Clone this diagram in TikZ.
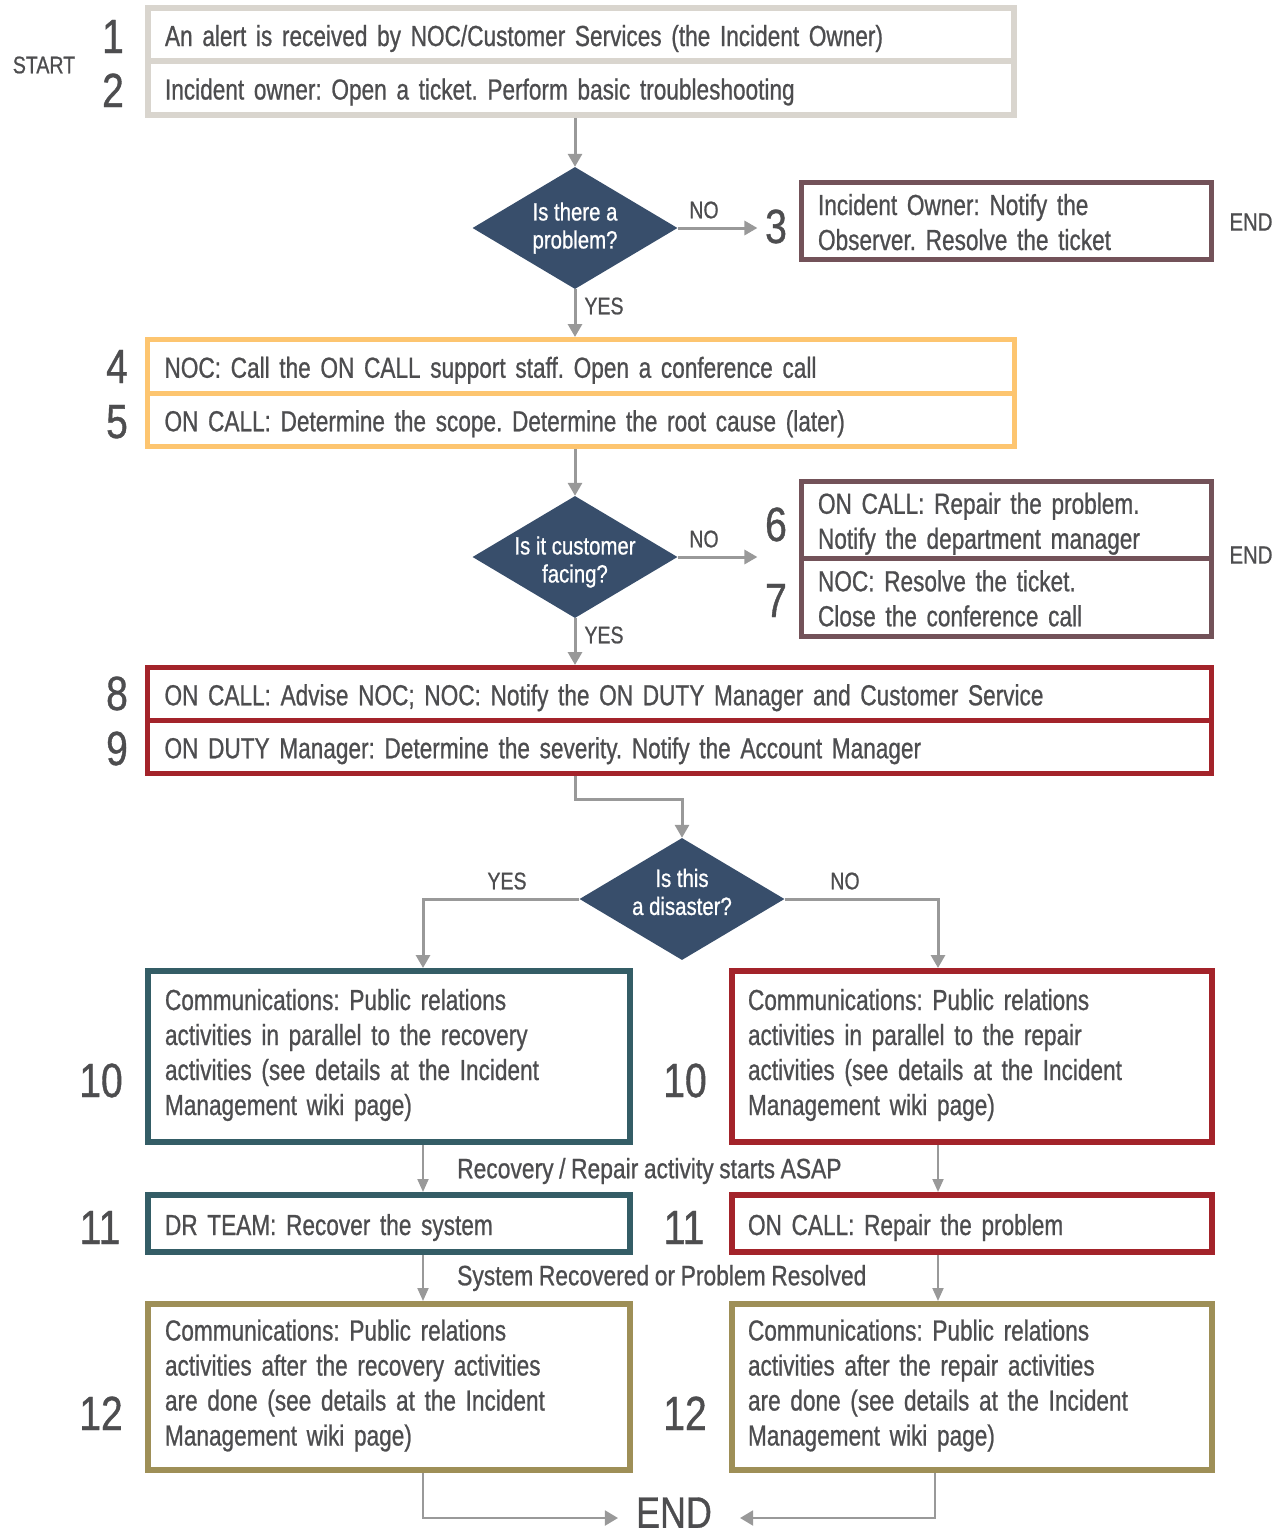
\documentclass[tikz,border=0pt]{standalone}
\usepackage{fontspec}
\setmainfont{Liberation Sans}[FakeStretch=0.78, FakeBold=0.8]
\newfontfamily\labfont{Liberation Sans}[FakeStretch=0.815, FakeBold=0.8]
\frenchspacing
\usetikzlibrary{shapes.geometric,arrows.meta,calc}
\newcommand\boxfont{\fontsize{29}{35}\selectfont\setlength{\spaceskip}{5.2pt}}
\newcommand\midfont{\labfont\fontsize{28}{32}\selectfont\setlength{\spaceskip}{5.6pt}}
\definecolor{txt}{RGB}{77,77,79}
\definecolor{cgrey}{RGB}{217,213,206}
\definecolor{corange}{RGB}{253,197,112}
\definecolor{cmauve}{RGB}{115,82,89}
\definecolor{cred}{RGB}{163,35,42}
\definecolor{cteal}{RGB}{52,93,102}
\definecolor{colive}{RGB}{158,143,87}
\definecolor{cdia}{RGB}{56,78,107}
\definecolor{carrow}{RGB}{153,153,153}
\begin{document}
\begin{tikzpicture}[x=1pt,y=-1pt,
  every node/.style={text=txt},
  box/.style={draw=#1, line width=5pt, anchor=north west, align=left, outer sep=0pt,
    inner xsep=17pt, inner ysep=0pt, font=\boxfont,
    text height=23pt, text depth=0pt},
  two/.style={text depth=35pt},
  four/.style={text depth=116pt},
  num/.style={font=\labfont\fontsize{48}{50}\selectfont, inner sep=0pt, text height=34pt, text depth=0pt},
  lab/.style={font=\labfont\fontsize{24}{28}\selectfont, inner sep=0pt},
  biglab/.style={font=\midfont, inner sep=0pt},
  endlab/.style={font=\labfont\fontsize{25}{28}\selectfont, inner sep=0pt},
  diam/.style={diamond, fill=cdia, minimum width=205pt, minimum height=122pt, inner sep=0pt},
  dtext/.style={text=white, align=center, font=\labfont\fontsize{25}{28}\selectfont, inner sep=0pt},
  conn/.style={draw=carrow, line width=3pt, -{Triangle[width=14pt,length=13pt]}},
  thin/.style={draw=carrow, line width=2pt, -{Triangle[width=11pt,length=13pt]}},
]
\useasboundingbox (0,0) rectangle (1283,1534);

% steps 1 and 2
\node[box=cgrey, line width=6pt, minimum width=866pt, minimum height=53pt, text width=832pt] (b1) at (148,8)
  {An alert is received by NOC/Customer Services (the Incident Owner)};
\node[box=cgrey, line width=6pt, minimum width=866pt, minimum height=54pt, text width=832pt] (b2) at (148,61)
  {Incident owner: Open a ticket. Perform basic troubleshooting};
\node[lab] (start) at (44,65) {START};
\node[num] (n1) at (113,36) {1};
\node[num] (n2) at (113,90) {2};

% first decision
\node[diam, label={[dtext]center:Is there a\\problem?}] (d1) at (575,228) {};
\node[box=cmauve, minimum width=410pt, minimum height=77pt, text width=377pt, inner xsep=16.5pt, two] (b3) at (801.5,182.5)
  {Incident Owner: Notify the\\Observer. Resolve the ticket};
\node[num] (n3) at (776,226) {3};
\node[endlab] (end1) at (1251,222) {END};
\node[lab] (no1) at (704,210) {NO};
\node[lab] (yes1) at (604,306) {YES};

% steps 4 and 5
\node[box=corange, minimum width=867pt, minimum height=53.5pt, text width=833pt] (b4) at (147.5,339.5)
  {NOC: Call the ON CALL support staff. Open a conference call};
\node[box=corange, minimum width=867pt, minimum height=53.5pt, text width=833pt] (b5) at (147.5,393)
  {ON CALL: Determine the scope. Determine the root cause (later)};
\node[num] (n4) at (117,366) {4};
\node[num] (n5) at (117,421) {5};

% second decision
\node[diam, label={[dtext, yshift=-5pt]center:Is it customer\\facing?}] (d2) at (575,557) {};
\node[box=cmauve, minimum width=410pt, minimum height=76.5pt, text width=377pt, inner xsep=16.5pt, two] (b6) at (801.5,481.5)
  {ON CALL: Repair the problem.\\Notify the department manager};
\node[box=cmauve, minimum width=410pt, minimum height=78.5pt, text width=377pt, inner xsep=16.5pt, two] (b7) at (801.5,558)
  {NOC: Resolve the ticket.\\Close the conference call};
\node[num] (n6) at (776,524) {6};
\node[num] (n7) at (776,600) {7};
\node[endlab] (end2) at (1251,555) {END};
\node[lab] (no2) at (704,539) {NO};
\node[lab] (yes2) at (604,635) {YES};

% steps 8 and 9
\node[box=cred, minimum width=1064pt, minimum height=52.5pt, text width=1030pt] (b8) at (147.5,667.5)
  {ON CALL: Advise NOC; NOC: Notify the ON DUTY Manager and Customer Service};
\node[box=cred, minimum width=1064pt, minimum height=53.5pt, text width=1030pt] (b9) at (147.5,720)
  {ON DUTY Manager: Determine the severity. Notify the Account Manager};
\node[num] (n8) at (117,693) {8};
\node[num] (n9) at (117,748) {9};

% third decision
\node[diam, label={[dtext, yshift=7pt]center:Is this\\a disaster?}] (d3) at (682,899) {};
\node[lab] (yes3) at (507,881) {YES};
\node[lab] (no3) at (845,881) {NO};

% step 10
\node[box=cteal, line width=6pt, minimum width=482pt, minimum height=171pt, text width=448pt, four] (b10l) at (148,971)
  {Communications: Public relations\\activities in parallel to the recovery\\activities (see details at the Incident\\Management wiki page)};
\node[box=cred, line width=5.5pt, minimum width=480pt, minimum height=171pt, text width=448pt, inner xsep=16pt, four] (b10r) at (732,971)
  {Communications: Public relations\\activities in parallel to the repair\\activities (see details at the Incident\\Management wiki page)};
\node[num] (n10l) at (101,1080) {10};
\node[num] (n10r) at (685,1080) {10};
\node[biglab, anchor=west] (asap) at (457,1171) {Recovery / Repair activity starts ASAP};

% step 11
\node[box=cteal, line width=6pt, minimum width=482pt, minimum height=57pt, text width=448pt] (b11l) at (148,1195)
  {DR TEAM: Recover the system};
\node[box=cred, line width=5.5pt, minimum width=480pt, minimum height=57pt, text width=448pt, inner xsep=16pt] (b11r) at (732,1195)
  {ON CALL: Repair the problem};
\node[num] (n11l) at (100,1227) {11};
\node[num] (n11r) at (684,1227) {11};
\node[biglab, anchor=west] (resolved) at (457,1278) {System Recovered or Problem Resolved};

% step 12
\node[box=colive, line width=6pt, minimum width=482pt, minimum height=166pt, text width=448pt, four] (b12l) at (148,1304)
  {Communications: Public relations\\activities after the recovery activities\\are done (see details at the Incident\\Management wiki page)};
\node[box=colive, line width=6pt, minimum width=480pt, minimum height=166pt, text width=448pt, inner xsep=16pt, four] (b12r) at (732,1304)
  {Communications: Public relations\\activities after the repair activities\\are done (see details at the Incident\\Management wiki page)};
\node[num] (n12l) at (101,1413) {12};
\node[num] (n12r) at (685,1413) {12};
\node[font=\labfont\fontsize{44}{50}\selectfont, inner sep=0pt, text height=31.5pt, text depth=0pt] (endn) at (674,1512) {END};

% connectors
\draw[conn, shorten <=3pt] (d1.north |- b2.south) -- (d1.north);
\draw[conn, shorten >=7.5pt] (d1.east) -- (n3.west |- d1.east);
\draw[conn, shorten >=2.5pt] (d1.south) -- (d1.south |- b4.north);
\draw[conn, shorten <=2.5pt] (d2.north |- b5.south) -- (d2.north);
\draw[conn, shorten >=7.5pt] (d2.east) -- (n6.west |- d2.east);
\draw[conn, shorten >=2.5pt] (d2.south) -- (d2.south |- b8.north);
\draw[conn, shorten <=2.5pt] (d2.south |- b9.south) -- ++(0,26) -| (d3.north);
\draw[conn, shorten >=3pt] (d3.west) -| ([xshift=275pt]b10l.north west);
\draw[conn, shorten >=3pt] (d3.east) -| ([xshift=206pt]b10r.north west);
\draw[thin, shorten <=3pt, shorten >=3pt] ([xshift=275pt]b10l.south west) -- ([xshift=275pt]b11l.north west);
\draw[thin, shorten <=3pt, shorten >=3pt] ([xshift=206pt]b10r.south west) -- ([xshift=206pt]b11r.north west);
\draw[thin, shorten <=3pt, shorten >=3pt] ([xshift=275pt]b11l.south west) -- ([xshift=275pt]b12l.north west);
\draw[thin, shorten <=3pt, shorten >=3pt] ([xshift=206pt]b11r.south west) -- ([xshift=206pt]b12r.north west);
\draw[thin, -{Triangle[width=15pt,length=13pt]}, shorten <=3pt, shorten >=18pt] ([xshift=275pt]b12l.south west) |- ([yshift=-6pt]endn.west);
\draw[thin, -{Triangle[width=15pt,length=13pt]}, shorten <=3pt, shorten >=28pt] ([xshift=203pt]b12r.south west) |- ([yshift=-6pt]endn.east);
\end{tikzpicture}
\end{document}
